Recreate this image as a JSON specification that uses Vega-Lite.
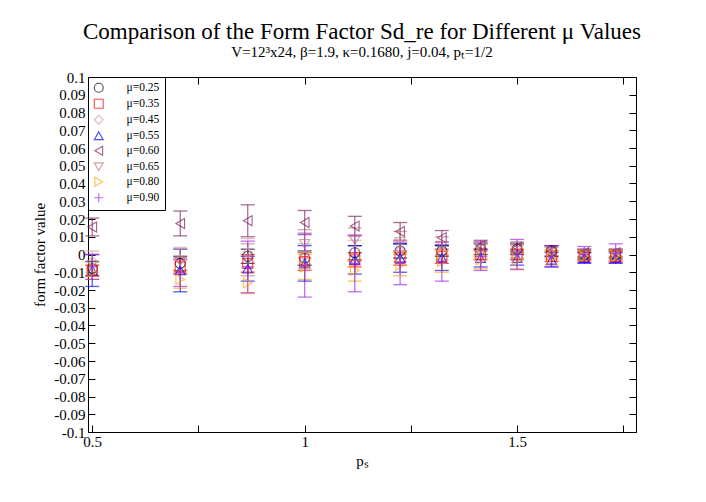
{
  "$schema": "https://vega.github.io/schema/vega-lite/v6.json",
  "autosize": {"type": "none"},
  "width": 548,
  "height": 355,
  "padding": {"left": 88, "top": 77, "right": 70, "bottom": 70},
  "background": "white",
  "title": {
    "text": "Comparison of the Form Factor Sd_re for Different μ Values",
    "subtitle": "V=12³x24, β=1.9, κ=0.1680, j=0.04, pₜ=1/2",
    "font": "Liberation Serif",
    "fontSize": 23,
    "fontWeight": "normal",
    "color": "black",
    "subtitleFont": "Liberation Serif",
    "subtitleFontSize": 15,
    "subtitleColor": "black",
    "subtitlePadding": 1,
    "anchor": "middle",
    "offset": 10
  },
  "config": {
    "view": {"stroke": "black", "strokeWidth": 1},
    "axis": {
      "grid": false,
      "domainColor": "black",
      "tickColor": "black",
      "labelColor": "black",
      "titleColor": "black",
      "labelFont": "Liberation Serif",
      "titleFont": "Liberation Serif",
      "labelFontSize": 15,
      "titleFontSize": 15,
      "titleFontWeight": "normal"
    },
    "legend": {
      "labelFont": "Liberation Serif",
      "labelFontSize": 11.5,
      "labelColor": "black"
    }
  },
  "data": {
    "values": [
      {"ps": 0.5, "mu": "μ=0.25", "v": -0.008, "e": 0.004},
      {"ps": 0.5, "mu": "μ=0.35", "v": -0.009, "e": 0.003},
      {"ps": 0.5, "mu": "μ=0.45", "v": -0.004, "e": 0.006},
      {"ps": 0.5, "mu": "μ=0.55", "v": -0.009, "e": 0.009},
      {"ps": 0.5, "mu": "μ=0.60", "v": 0.0155, "e": 0.005},
      {"ps": 0.5, "mu": "μ=0.65", "v": -0.006, "e": 0.006},
      {"ps": 0.5, "mu": "μ=0.80", "v": -0.010, "e": 0.004},
      {"ps": 0.5, "mu": "μ=0.90", "v": -0.007, "e": 0.007},

      {"ps": 0.7071, "mu": "μ=0.25", "v": -0.005, "e": 0.004},
      {"ps": 0.7071, "mu": "μ=0.35", "v": -0.007, "e": 0.004},
      {"ps": 0.7071, "mu": "μ=0.45", "v": -0.003, "e": 0.007},
      {"ps": 0.7071, "mu": "μ=0.55", "v": -0.009, "e": 0.012},
      {"ps": 0.7071, "mu": "μ=0.60", "v": 0.0175, "e": 0.007},
      {"ps": 0.7071, "mu": "μ=0.65", "v": -0.004, "e": 0.007},
      {"ps": 0.7071, "mu": "μ=0.80", "v": -0.014, "e": 0.005},
      {"ps": 0.7071, "mu": "μ=0.90", "v": -0.010, "e": 0.008},

      {"ps": 0.866, "mu": "μ=0.25", "v": -0.001, "e": 0.004},
      {"ps": 0.866, "mu": "μ=0.35", "v": -0.005, "e": 0.005},
      {"ps": 0.866, "mu": "μ=0.45", "v": 0.001, "e": 0.008},
      {"ps": 0.866, "mu": "μ=0.55", "v": -0.008, "e": 0.007},
      {"ps": 0.866, "mu": "μ=0.60", "v": 0.019, "e": 0.009},
      {"ps": 0.866, "mu": "μ=0.65", "v": -0.003, "e": 0.009},
      {"ps": 0.866, "mu": "μ=0.80", "v": -0.016, "e": 0.006},
      {"ps": 0.866, "mu": "μ=0.90", "v": -0.007, "e": 0.0145},

      {"ps": 1.0, "mu": "μ=0.25", "v": -0.002, "e": 0.004},
      {"ps": 1.0, "mu": "μ=0.35", "v": -0.004, "e": 0.005},
      {"ps": 1.0, "mu": "μ=0.45", "v": -0.001, "e": 0.007},
      {"ps": 1.0, "mu": "μ=0.55", "v": -0.005, "e": 0.010},
      {"ps": 1.0, "mu": "μ=0.60", "v": 0.018, "e": 0.0068},
      {"ps": 1.0, "mu": "μ=0.65", "v": 0.006, "e": 0.008},
      {"ps": 1.0, "mu": "μ=0.80", "v": -0.007, "e": 0.007},
      {"ps": 1.0, "mu": "μ=0.90", "v": -0.006, "e": 0.018},

      {"ps": 1.118, "mu": "μ=0.25", "v": 0.001, "e": 0.004},
      {"ps": 1.118, "mu": "μ=0.35", "v": -0.003, "e": 0.004},
      {"ps": 1.118, "mu": "μ=0.45", "v": 0.002, "e": 0.006},
      {"ps": 1.118, "mu": "μ=0.55", "v": -0.003, "e": 0.008},
      {"ps": 1.118, "mu": "μ=0.60", "v": 0.016, "e": 0.0055},
      {"ps": 1.118, "mu": "μ=0.65", "v": 0.008, "e": 0.007},
      {"ps": 1.118, "mu": "μ=0.80", "v": -0.009, "e": 0.006},
      {"ps": 1.118, "mu": "μ=0.90", "v": -0.005, "e": 0.016},

      {"ps": 1.2247, "mu": "μ=0.25", "v": 0.002, "e": 0.004},
      {"ps": 1.2247, "mu": "μ=0.35", "v": -0.002, "e": 0.004},
      {"ps": 1.2247, "mu": "μ=0.45", "v": 0.002, "e": 0.006},
      {"ps": 1.2247, "mu": "μ=0.55", "v": -0.002, "e": 0.008},
      {"ps": 1.2247, "mu": "μ=0.60", "v": 0.013, "e": 0.005},
      {"ps": 1.2247, "mu": "μ=0.65", "v": 0.007, "e": 0.006},
      {"ps": 1.2247, "mu": "μ=0.80", "v": -0.006, "e": 0.006},
      {"ps": 1.2247, "mu": "μ=0.90", "v": -0.005, "e": 0.012},

      {"ps": 1.3229, "mu": "μ=0.25", "v": 0.002, "e": 0.003},
      {"ps": 1.3229, "mu": "μ=0.35", "v": -0.001, "e": 0.004},
      {"ps": 1.3229, "mu": "μ=0.45", "v": 0.002, "e": 0.005},
      {"ps": 1.3229, "mu": "μ=0.55", "v": -0.002, "e": 0.007},
      {"ps": 1.3229, "mu": "μ=0.60", "v": 0.0095, "e": 0.004},
      {"ps": 1.3229, "mu": "μ=0.65", "v": 0.005, "e": 0.005},
      {"ps": 1.3229, "mu": "μ=0.80", "v": -0.004, "e": 0.006},
      {"ps": 1.3229, "mu": "μ=0.90", "v": -0.004, "e": 0.011},

      {"ps": 1.4142, "mu": "μ=0.25", "v": 0.003, "e": 0.003},
      {"ps": 1.4142, "mu": "μ=0.35", "v": 0.0, "e": 0.003},
      {"ps": 1.4142, "mu": "μ=0.45", "v": 0.002, "e": 0.004},
      {"ps": 1.4142, "mu": "μ=0.55", "v": -0.002, "e": 0.005},
      {"ps": 1.4142, "mu": "μ=0.60", "v": 0.005, "e": 0.003},
      {"ps": 1.4142, "mu": "μ=0.65", "v": 0.003, "e": 0.004},
      {"ps": 1.4142, "mu": "μ=0.80", "v": -0.003, "e": 0.005},
      {"ps": 1.4142, "mu": "μ=0.90", "v": -0.001, "e": 0.008},

      {"ps": 1.5, "mu": "μ=0.25", "v": 0.003, "e": 0.003},
      {"ps": 1.5, "mu": "μ=0.35", "v": 0.0, "e": 0.003},
      {"ps": 1.5, "mu": "μ=0.45", "v": 0.001, "e": 0.004},
      {"ps": 1.5, "mu": "μ=0.55", "v": -0.002, "e": 0.004},
      {"ps": 1.5, "mu": "μ=0.60", "v": 0.004, "e": 0.003},
      {"ps": 1.5, "mu": "μ=0.65", "v": 0.002, "e": 0.004},
      {"ps": 1.5, "mu": "μ=0.80", "v": -0.003, "e": 0.005},
      {"ps": 1.5, "mu": "μ=0.90", "v": 0.0, "e": 0.0085},

      {"ps": 1.5811, "mu": "μ=0.25", "v": 0.002, "e": 0.003},
      {"ps": 1.5811, "mu": "μ=0.35", "v": -0.001, "e": 0.003},
      {"ps": 1.5811, "mu": "μ=0.45", "v": 0.0, "e": 0.003},
      {"ps": 1.5811, "mu": "μ=0.55", "v": -0.003, "e": 0.004},
      {"ps": 1.5811, "mu": "μ=0.60", "v": 0.002, "e": 0.003},
      {"ps": 1.5811, "mu": "μ=0.65", "v": 0.001, "e": 0.003},
      {"ps": 1.5811, "mu": "μ=0.80", "v": -0.002, "e": 0.004},
      {"ps": 1.5811, "mu": "μ=0.90", "v": -0.001, "e": 0.006},

      {"ps": 1.6583, "mu": "μ=0.25", "v": 0.0, "e": 0.002},
      {"ps": 1.6583, "mu": "μ=0.35", "v": -0.001, "e": 0.002},
      {"ps": 1.6583, "mu": "μ=0.45", "v": 0.0, "e": 0.003},
      {"ps": 1.6583, "mu": "μ=0.55", "v": -0.002, "e": 0.003},
      {"ps": 1.6583, "mu": "μ=0.60", "v": 0.001, "e": 0.002},
      {"ps": 1.6583, "mu": "μ=0.65", "v": 0.0, "e": 0.003},
      {"ps": 1.6583, "mu": "μ=0.80", "v": -0.001, "e": 0.003},
      {"ps": 1.6583, "mu": "μ=0.90", "v": 0.0, "e": 0.0045},

      {"ps": 1.7321, "mu": "μ=0.25", "v": 0.0, "e": 0.002},
      {"ps": 1.7321, "mu": "μ=0.35", "v": -0.001, "e": 0.003},
      {"ps": 1.7321, "mu": "μ=0.45", "v": 0.0, "e": 0.003},
      {"ps": 1.7321, "mu": "μ=0.55", "v": -0.002, "e": 0.003},
      {"ps": 1.7321, "mu": "μ=0.60", "v": 0.001, "e": 0.002},
      {"ps": 1.7321, "mu": "μ=0.65", "v": 0.0, "e": 0.003},
      {"ps": 1.7321, "mu": "μ=0.80", "v": -0.001, "e": 0.003},
      {"ps": 1.7321, "mu": "μ=0.90", "v": 0.0005, "e": 0.0055}
    ]
  },
  "resolve": {
    "axis": {"x": "independent", "y": "independent"},
    "legend": {"color": "independent", "shape": "independent"}
  },
  "layer": [
    {
      "mark": {"type": "errorbar", "ticks": true, "size": 14, "thickness": 1.3, "opacity": 0.65},
      "encoding": {
        "x": {
          "field": "ps", "type": "quantitative",
          "scale": {"domain": [0.49, 1.78], "nice": false, "zero": false},
          "axis": {
            "title": "pₛ",
            "values": [0.5, 0.75, 1, 1.25, 1.5, 1.75],
            "labelExpr": "(datum.value == 0.75 || datum.value == 1.25 || datum.value == 1.75) ? '' : toString(datum.value)",
            "tickSize": -7,
            "labelPadding": 9,
            "titlePadding": 4,
            "labelFlush": false
          }
        },
        "y": {
          "field": "v", "type": "quantitative",
          "scale": {"domain": [-0.1, 0.1], "nice": false, "zero": false},
          "axis": {
            "title": "form factor value",
            "values": [-0.1, -0.09, -0.08, -0.07, -0.06, -0.05, -0.04, -0.03, -0.02, -0.01, 0, 0.01, 0.02, 0.03, 0.04, 0.05, 0.06, 0.07, 0.08, 0.09, 0.1],
            "labelExpr": "toString(datum.value)",
            "tickSize": -7,
            "labelPadding": 10,
            "titlePadding": 6
          }
        },
        "yError": {"field": "e"},
        "color": {
          "field": "mu", "type": "nominal",
          "scale": {
            "domain": ["μ=0.25", "μ=0.35", "μ=0.45", "μ=0.55", "μ=0.60", "μ=0.65", "μ=0.80", "μ=0.90"],
            "range": ["#000000", "#ff0000", "#d4a0a0", "#0000ff", "#7f1f5f", "#b77a7a", "#ffa500", "#a020f0"]
          },
          "legend": null
        }
      }
    },
    {
      "mark": {"type": "point", "filled": false, "size": 100, "strokeWidth": 1.1},
      "encoding": {
        "x": {
          "field": "ps", "type": "quantitative",
          "scale": {"domain": [0.49, 1.78], "nice": false, "zero": false},
          "axis": {"orient": "top", "title": null, "labels": false, "domain": false, "values": [0.5, 0.75, 1, 1.25, 1.5, 1.75], "tickSize": -7}
        },
        "y": {
          "field": "v", "type": "quantitative",
          "scale": {"domain": [-0.1, 0.1], "nice": false, "zero": false},
          "axis": {"orient": "right", "title": null, "labels": false, "domain": false, "values": [-0.1, -0.09, -0.08, -0.07, -0.06, -0.05, -0.04, -0.03, -0.02, -0.01, 0, 0.01, 0.02, 0.03, 0.04, 0.05, 0.06, 0.07, 0.08, 0.09, 0.1], "tickSize": -7}
        },
        "color": {
          "field": "mu", "type": "nominal",
          "scale": {
            "domain": ["μ=0.25", "μ=0.35", "μ=0.45", "μ=0.55", "μ=0.60", "μ=0.65", "μ=0.80", "μ=0.90"],
            "range": ["#000000", "#ff0000", "#d4a0a0", "#0000ff", "#7f1f5f", "#b77a7a", "#ffa500", "#a020f0"]
          },
          "legend": {
            "title": null,
            "orient": "top-left",
            "offset": 0,
            "padding": 5,
            "strokeColor": "black",
            "fillColor": "white",
            "rowPadding": 2,
            "symbolSize": 80,
            "symbolStrokeWidth": 1.1,
            "labelOffset": 22
          }
        },
        "shape": {
          "field": "mu", "type": "nominal",
          "scale": {
            "domain": ["μ=0.25", "μ=0.35", "μ=0.45", "μ=0.55", "μ=0.60", "μ=0.65", "μ=0.80", "μ=0.90"],
            "range": ["circle", "square", "diamond", "triangle-up", "triangle-left", "triangle-down", "triangle-right", "M-1,0H1M0,-1V1"]
          },
          "legend": {
            "title": null,
            "orient": "top-left",
            "offset": 0,
            "padding": 5,
            "strokeColor": "black",
            "fillColor": "white",
            "rowPadding": 2,
            "symbolSize": 80,
            "symbolStrokeWidth": 1.1,
            "labelOffset": 22
          }
        }
      }
    }
  ]
}
